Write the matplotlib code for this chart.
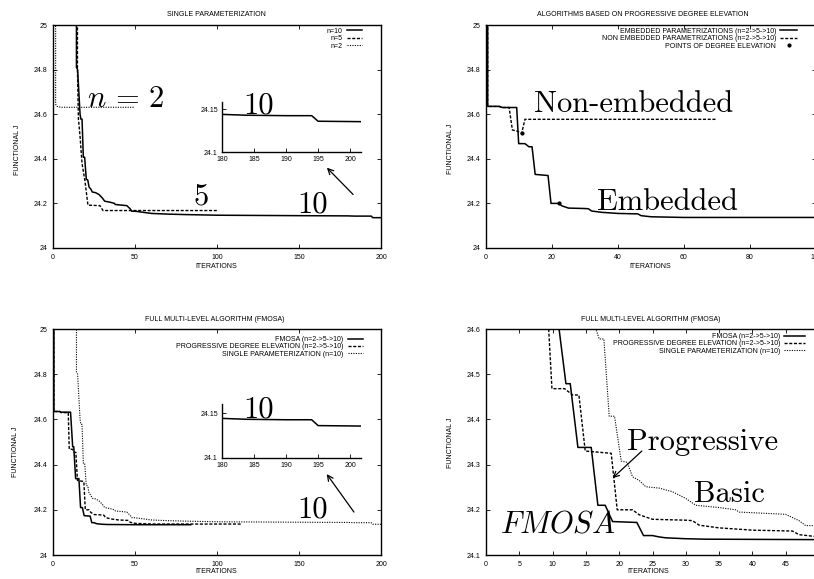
import matplotlib
matplotlib.use('Agg')
import matplotlib.pyplot as plt
from matplotlib.ticker import FormatStrFormatter
from matplotlib.lines import Line2D

plt.rcParams['font.family'] = ['Liberation Sans', 'DejaVu Sans']
plt.rcParams['font.size'] = 5
plt.rcParams['mathtext.fontset'] = 'cm'

# single parameterization, n=10 (also "basic" curve of the FMOSA plots)
single10_x = [14.3, 14.3, 15.0, 16.5, 17.0, 17.7, 18.5, 19.3, 20.3, 21.2, 22, 23, 24, 26, 28, 30, 31.5, 35,
              37.5, 38, 45, 47, 48, 50, 55, 60, 70, 80, 100, 150, 180, 184, 194, 195, 200]
single10_y = [25.3, 24.81, 24.80, 24.60, 24.578, 24.578, 24.407, 24.407, 24.308, 24.305, 24.273, 24.265,
              24.251, 24.248, 24.24, 24.225, 24.21, 24.205, 24.20, 24.195, 24.19, 24.176, 24.165, 24.165,
              24.16, 24.155, 24.152, 24.15, 24.147, 24.145, 24.144, 24.143, 24.143, 24.136, 24.136]

# single parameterization, n=5
single5_x = [14.9, 14.9, 15.5, 16.5, 17.7, 19.5, 21.3, 28.6, 30.5, 100]
single5_y = [25.3, 24.80, 24.58, 24.50, 24.38, 24.30, 24.192, 24.19, 24.168, 24.168]

# single parameterization, n=2
single2_x = [1.6, 1.6, 2.5, 5, 50]
single2_y = [25.3, 24.645, 24.635, 24.631, 24.631]

# progressive degree elevation, embedded parametrizations (n=2->5->10)
embed_x = [0.5, 0.5, 4, 5, 9.3, 9.9, 11.8, 13, 13.95, 14.9, 18.8, 19.7, 22, 23, 25, 30, 31, 32, 35, 40,
           46, 47, 50, 60, 100, 115]
embed_y = [25.3, 24.635, 24.635, 24.63, 24.63, 24.468, 24.468, 24.454, 24.454, 24.33, 24.325, 24.20,
           24.20, 24.189, 24.179, 24.177, 24.176, 24.166, 24.16, 24.155, 24.153, 24.145, 24.14, 24.137,
           24.137, 24.137]

# non embedded parametrizations (n=2->5->10)
nonemb_x = [0.5, 0.5, 4, 5, 7.0, 8.0, 9.3, 10.8, 11.8, 70]
nonemb_y = [25.3, 24.635, 24.635, 24.63, 24.63, 24.529, 24.525, 24.514, 24.577, 24.577]

# points of degree elevation
elev_x = [10.8, 22]
elev_y = [24.514, 24.20]

# FMOSA (n=2->5->10)
fmosa_x = [0.5, 0.5, 4, 5, 10.7, 12, 12.65, 13.8, 15.8, 16.8, 17.9, 19, 22.65, 23.65, 25, 26, 27, 30,
           33, 50, 84]
fmosa_y = [25.3, 24.635, 24.635, 24.632, 24.632, 24.479, 24.479, 24.338, 24.338, 24.21, 24.21, 24.174,
           24.172, 24.143, 24.143, 24.14, 24.138, 24.136, 24.135, 24.134, 24.134]

# zoom window on the last iterations of n=10
zoom_x = [180, 184, 190, 194, 195, 201.7]
zoom_y = [24.144, 24.143, 24.1425, 24.1425, 24.136, 24.1355]

W, H = 814, 579
fig = plt.figure(figsize=(W / 100, H / 100), dpi=100)


def box(l, t, r, b):
    return [l / W, 1 - b / H, (r - l) / W, (b - t) / H]


SOLID = dict(color='k', lw=1.1, ls='-')
DASH = dict(color='k', lw=1.0, ls=(0, (2.2, 1.2)))
DOT = dict(color='k', lw=0.8, ls=(0, (1, 1.2)))
BIG = dict(fontsize=22, family='cmr10', ha='left', va='baseline')


def style(ax, title, tpos, xlpos, ylpos, xt, yt, xlim, ylim):
    ax.set_xlim(xlim)
    ax.set_ylim(ylim)
    ax.set_xticks(xt)
    ax.set_yticks(yt)
    ax.yaxis.set_major_formatter(FormatStrFormatter('%g'))
    ax.xaxis.set_major_formatter(FormatStrFormatter('%g'))
    ax.tick_params(direction='in', top=True, right=True, length=3, width=0.6, labelsize=5, pad=4)
    for s in ax.spines.values():
        s.set_linewidth(1.0)
    ax.text(tpos[0], tpos[1], title, transform=ax.transAxes, ha='center', va='center', fontsize=5)
    ax.text(xlpos[0], xlpos[1], 'ITERATIONS', transform=ax.transAxes, ha='center', va='center', fontsize=5)
    ax.text(ylpos[0], ylpos[1], 'FUNCTIONAL J', transform=ax.transAxes, ha='center', va='center',
            fontsize=5, rotation=90)


def legend(ax, handles, labels, anchor, hl):
    ax.legend(handles, labels, loc='upper right', bbox_to_anchor=anchor, markerfirst=False, frameon=False,
              fontsize=5, handlelength=hl, labelspacing=0.05, borderpad=0, borderaxespad=0,
              handletextpad=0.6)


def inset(rect, ylim):
    ia = fig.add_axes(box(*rect))
    ia.plot(zoom_x, zoom_y, **SOLID)
    ia.set_xlim(180, 201.7)
    ia.set_ylim(ylim)
    ia.set_xticks([180, 185, 190, 195, 200])
    ia.set_yticks([24.1, 24.15])
    ia.yaxis.set_major_formatter(FormatStrFormatter('%g'))
    ia.tick_params(direction='in', length=3, width=0.6, labelsize=5, pad=3)
    ia.spines['top'].set_visible(False)
    ia.spines['right'].set_visible(False)
    for s in ('left', 'bottom'):
        ia.spines[s].set_linewidth(1.0)
    ia.patch.set_alpha(0)
    ia.text(183.3, 24.145, '10', clip_on=False, **BIG)
    return ia


arrow = dict(arrowstyle='->', color='k', lw=0.9, mutation_scale=10, shrinkA=0, shrinkB=0)

# ---- top left: single parameterization
ax1 = fig.add_axes(box(53, 25, 381, 248))
l10, = ax1.plot(single10_x, single10_y, **SOLID)
l5, = ax1.plot(single5_x, single5_y, **DASH)
l2, = ax1.plot(single2_x, single2_y, **DOT)
style(ax1, 'SINGLE PARAMETERIZATION', (0.499, 1.049), (0.499, -0.085), (-0.107, 0.44),
      [0, 50, 100, 150, 200], [24, 24.2, 24.4, 24.6, 24.8, 25], (0, 200), (24, 25))
legend(ax1, [l10, l5, l2], ['n=10', 'n=5', 'n=2'], (0.942, 0.987), 2.2)
ax1.text(20.7, 24.632, r'$n\,=\,2$', fontsize=22, ha='left', va='baseline')
ax1.text(85.4, 24.193, '5', **BIG)
ax1.text(148.8, 24.158, '10', **BIG)
ax1.annotate('', xy=(167, 24.36), xytext=(183, 24.24), arrowprops=arrow)
inset((222, 102, 361, 152), (24.1, 24.1585))

# ---- top right: progressive degree elevation
ax2 = fig.add_axes(box(486, 25, 816, 248))
le, = ax2.plot(embed_x, embed_y, **SOLID)
ln, = ax2.plot(nonemb_x, nonemb_y, **DASH)
ax2.plot(elev_x, elev_y, 'o', color='k', ms=2)
style(ax2, 'ALGORITHMS BASED ON PROGRESSIVE DEGREE ELEVATION', (0.475, 1.049), (0.497, -0.085),
      (-0.109, 0.445), [0, 20, 40, 60, 80, 100], [24, 24.2, 24.4, 24.6, 24.8, 25], (0, 100), (24, 25))
lp = Line2D([], [], ls='none', marker='o', color='k', ms=2)
legend(ax2, [le, ln, lp], ['EMBEDDED PARAMETRIZATIONS (n=2->5->10)', 'NON EMBEDDED PARAMETRIZATIONS (n=2->5->10)',
                           'POINTS OF DEGREE ELEVATION'], (0.942, 0.987), 2.4)
ax2.text(14.5, 24.61, 'Non-embedded', **BIG)
ax2.text(33.6, 24.17, 'Embedded', **BIG)

# ---- bottom left: FMOSA full range
ax3 = fig.add_axes(box(53, 329, 381, 555))
lf, = ax3.plot(fmosa_x, fmosa_y, **SOLID)
lg, = ax3.plot(embed_x, embed_y, **DASH)
ls_, = ax3.plot(single10_x, single10_y, **DOT)
style(ax3, 'FULL MULTI-LEVEL ALGORITHM (FMOSA)', (0.494, 1.043), (0.499, -0.074), (-0.113, 0.457),
      [0, 50, 100, 150, 200], [24, 24.2, 24.4, 24.6, 24.8, 25], (0, 200), (24, 25))
labels3 = ['FMOSA (n=2->5->10)', 'PROGRESSIVE DEGREE ELEVATION (n=2->5->10)', 'SINGLE PARAMETERIZATION (n=10)']
legend(ax3, [lf, lg, ls_], labels3, (0.945, 0.969), 2.2)
ax3.text(148.8, 24.168, '10', **BIG)
ax3.annotate('', xy=(166.9, 24.358), xytext=(183.5, 24.19), arrowprops=arrow)
inset((222, 404, 361, 458), (24.1, 24.16))

# ---- bottom right: FMOSA first 50 iterations
ax4 = fig.add_axes(box(486, 329, 819, 555))
lf4, = ax4.plot(fmosa_x, fmosa_y, **SOLID)
lg4, = ax4.plot(embed_x, embed_y, **DASH)
ls4, = ax4.plot(single10_x, single10_y, **DOT)
style(ax4, 'FULL MULTI-LEVEL ALGORITHM (FMOSA)', (0.494, 1.043), (0.488, -0.074), (-0.108, 0.496),
      list(range(0, 55, 5)), [24.1, 24.2, 24.3, 24.4, 24.5, 24.6], (0, 50), (24.1, 24.6))
legend(ax4, [lf4, lg4, ls4], labels3, (0.958, 0.982), 3.0)
ax4.text(21.1, 24.3325, 'Progressive', **BIG)
ax4.text(31.2, 24.217, 'Basic', **BIG)
ax4.text(2.1, 24.150, r'$FMOSA$', fontsize=22, ha='left', va='baseline')
ax4.annotate('', xy=(19.0, 24.27), xytext=(23.4, 24.33), arrowprops=arrow)

fig.savefig('out.png', dpi=100)
